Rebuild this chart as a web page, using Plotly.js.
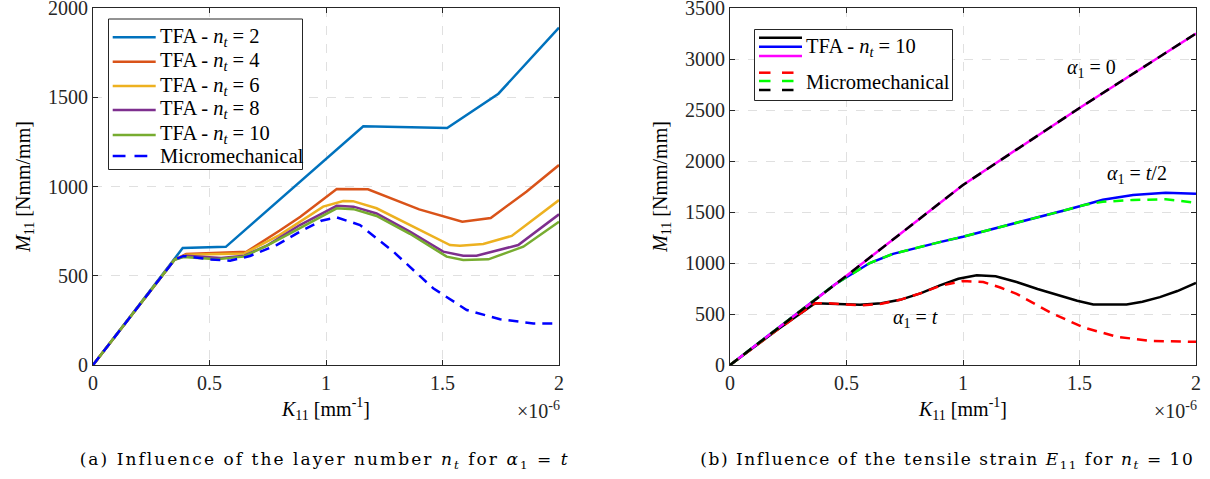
<!DOCTYPE html>
<html><head><meta charset="utf-8">
<script src="https://cdn.plot.ly/plotly-3.0.1.min.js"></script>
<style>
html,body{margin:0;padding:0;background:#fff}
.annotation[data-index="0"] text { letter-spacing: 2.05px; }
.annotation[data-index="1"] text { letter-spacing: 1.55px; }
</style>
</head><body><div id="chart" style="width:1210px;height:479px"></div>
<script>
// ---- Panel (a): curvature K11 (x 1e-6 mm^-1) vs moment M11 [Nmm/mm] ----
const a_nt2_x = [0, 0.385, 0.57, 1.16, 1.52, 1.74, 2];
const a_nt2_y = [0, 655, 662, 1337, 1328, 1520, 1890];
const a_nt4_x = [0, 0.35, 0.40, 0.66, 0.80, 0.89, 1.046, 1.18, 1.40, 1.585, 1.707, 1.86, 2];
const a_nt4_y = [0, 590, 622, 635, 752, 831, 986, 984, 872, 803, 823, 971, 1120];
const a_nt6_x = [0, 0.35, 0.40, 0.65, 0.80, 0.888, 0.988, 1.074, 1.116, 1.217, 1.532, 1.575, 1.675, 1.797, 2];
const a_nt6_y = [0, 590, 618, 625, 728, 803, 887, 919, 918, 878, 672, 668, 678, 723, 924];
const a_nt8_x = [0, 0.35, 0.40, 0.55, 0.65, 0.75, 0.888, 1.046, 1.118, 1.217, 1.36, 1.503, 1.589, 1.646, 1.825, 2];
const a_nt8_y = [0, 590, 612, 600, 612, 672, 784, 892, 887, 849, 747, 635, 612, 612, 672, 844];
const a_nt10_x = [0, 0.35, 0.388, 0.531, 0.645, 0.745, 0.86, 1.046, 1.118, 1.217, 1.36, 1.518, 1.589, 1.697, 1.847, 2];
const a_nt10_y = [0, 590, 605, 592, 607, 667, 747, 878, 873, 835, 735, 607, 588, 592, 663, 803];
const a_micro_x = [0, 0.35, 0.388, 0.5, 0.588, 0.674, 0.788, 0.888, 0.98, 1.046, 1.146, 1.289, 1.46, 1.604, 1.747, 1.89, 2];
const a_micro_y = [0, 590, 611, 592, 584, 611, 672, 747, 808, 827, 784, 635, 430, 308, 256, 233, 233];

// ---- Panel (b): n_t = 10, three alpha_1 values ----
const b_a0_x = [0, 0.5, 1, 1.5, 2];
const b_a0_tfa_y = [0, 875, 1765, 2520, 3250];
const b_a0_micro_y = [0, 875, 1765, 2520, 3250];
const b_ah_x = [0, 0.25, 0.45, 0.5, 0.6, 0.7, 0.8, 0.9, 1.0, 1.15, 1.3, 1.45, 1.52, 1.6, 1.73, 1.87, 2];
const b_ah_tfa_y = [0, 440, 790, 860, 1000, 1090, 1150, 1205, 1258, 1345, 1438, 1525, 1569, 1620, 1667, 1689, 1680];
const b_ah_micro_y = [0, 440, 790, 860, 1000, 1090, 1150, 1205, 1258, 1345, 1438, 1525, 1569, 1600, 1618, 1625, 1590];
const b_at_tfa_x = [0, 0.2, 0.365, 0.45, 0.558, 0.65, 0.73, 0.82, 0.901, 0.98, 1.059, 1.14, 1.23, 1.32, 1.416, 1.49, 1.559, 1.63, 1.702, 1.77, 1.845, 1.92, 2];
const b_at_tfa_y = [0, 340, 606, 600, 590, 605, 639, 705, 780, 845, 879, 870, 813, 745, 682, 630, 593, 590, 593, 620, 665, 725, 805];
const b_at_micro_x = [0, 0.2, 0.365, 0.415, 0.558, 0.65, 0.73, 0.82, 0.901, 1.0, 1.087, 1.16, 1.23, 1.373, 1.516, 1.66, 1.803, 1.9, 2];
const b_at_micro_y = [0, 340, 606, 606, 585, 600, 639, 705, 775, 823, 813, 760, 698, 517, 369, 277, 237, 230, 227];

const xTicks = [0, 0.5, 1, 1.5, 2];
const xTickText = ['0', '0.5', '1', '1.5', '2'];
const legendNames = ['TFA - <i>n</i><sub><i>t</i></sub> = 2', 'TFA - <i>n</i><sub><i>t</i></sub> = 4', 'TFA - <i>n</i><sub><i>t</i></sub> = 6',
  'TFA - <i>n</i><sub><i>t</i></sub> = 8', 'TFA - <i>n</i><sub><i>t</i></sub> = 10', 'Micromechanical'];
const matlabColors = ['#0072BD', '#D95319', '#EDB120', '#7E2F8E', '#77AC30'];
const microColorA = '#0000FF';

const LW = 2.5;
const DASH = '10px,7px';
function tr(x, y, name, color, dash, axis) {
  return {x: x, y: y, name: name, type: 'scatter', mode: 'lines',
    line: {color: color, width: LW, dash: dash || 'solid'},
    xaxis: axis === 2 ? 'x2' : 'x', yaxis: axis === 2 ? 'y2' : 'y',
    showlegend: false, hoverinfo: 'skip'};
}

const data = [
  tr(a_nt2_x, a_nt2_y, legendNames[0], matlabColors[0], null, 1),
  tr(a_nt4_x, a_nt4_y, legendNames[1], matlabColors[1], null, 1),
  tr(a_nt6_x, a_nt6_y, legendNames[2], matlabColors[2], null, 1),
  tr(a_nt8_x, a_nt8_y, legendNames[3], matlabColors[3], null, 1),
  tr(a_nt10_x, a_nt10_y, legendNames[4], matlabColors[4], null, 1),
  tr(a_micro_x, a_micro_y, legendNames[5], microColorA, DASH, 1),
  tr(b_at_tfa_x, b_at_tfa_y, 'TFA α1=t', '#000000', null, 2),
  tr(b_ah_x, b_ah_tfa_y, 'TFA α1=t/2', '#0000FF', null, 2),
  tr(b_a0_x, b_a0_tfa_y, 'TFA α1=0', '#FF00FF', null, 2),
  tr(b_at_micro_x, b_at_micro_y, 'Micro α1=t', '#FF0000', DASH, 2),
  tr(b_ah_x, b_ah_micro_y, 'Micro α1=t/2', '#00FF00', DASH, 2),
  tr(b_a0_x, b_a0_micro_y, 'Micro α1=0', '#000000', DASH, 2)
];

const W = 1210, H = 479;
const px = v => v / W, py = v => 1 - v / H;
const serif = 'Liberation Serif';
const axCol = '#262626';
function xax(dom, anchor) {
  return {domain: dom, anchor: anchor, range: [0, 2], tickvals: xTicks, ticktext: xTickText,
    showgrid: true, gridcolor: '#e0e0e0', griddash: 'dash', gridwidth: 1, zeroline: false,
    showline: true, linecolor: axCol, linewidth: 1, mirror: 'ticks', ticks: 'inside', ticklen: 5,
    tickcolor: axCol, tickfont: {family: serif, size: 20, color: axCol}, ticklabeloverflow: 'allow',
    title: {text: '<i>K</i><sub>11</sub> [mm<sup>-1</sup>]', standoff: 8, font: {family: serif, size: 20, color: '#000'}}};
}
function yax(dom, anchor, max) {
  return {domain: dom, anchor: anchor, range: [0, max], dtick: 500, tick0: 0,
    showgrid: true, gridcolor: '#e0e0e0', griddash: 'dash', gridwidth: 1, zeroline: false,
    showline: true, linecolor: axCol, linewidth: 1, mirror: 'ticks', ticks: 'inside', ticklen: 5,
    tickcolor: axCol, tickfont: {family: serif, size: 20, color: axCol}, ticklabeloverflow: 'allow',
    title: {text: '<i>M</i><sub>11</sub> [Nmm/mm]', standoff: 12, font: {family: serif, size: 20, color: '#000'}}};
}
const yDom = [py(365), py(8)];

const shapes = [];
function seg(x0, x1, y, color) {
  shapes.push({type: 'line', xref: 'paper', yref: 'paper', x0: px(x0), x1: px(x1), y0: py(y), y1: py(y),
    line: {color: color, width: LW}});
}
function box(x0, y0, x1, y1) {
  shapes.push({type: 'rect', xref: 'paper', yref: 'paper', x0: px(x0), x1: px(x1), y0: py(y1), y1: py(y0),
    line: {color: axCol, width: 1}, fillcolor: '#fff', layer: 'above'});
}
const legFont = {family: serif, size: 20.5, color: '#000'};
const annotations = [];

// captions (index 0,1 – letter-spaced via CSS, text is middle-anchored)
const capFont = {family: 'DejaVu Serif', size: 17, color: '#000'};
annotations.push({xref: 'paper', yref: 'paper', x: px(325), y: py(460), xanchor: 'center', yanchor: 'middle', showarrow: false,
  text: '(a) Influence of the layer number <i>n</i><sub><i>t</i></sub> for <i>α</i><sub>1</sub> = <i>t</i>', font: capFont});
annotations.push({xref: 'paper', yref: 'paper', x: px(947), y: py(460), xanchor: 'center', yanchor: 'middle', showarrow: false,
  text: '(b) Influence of the tensile strain <i>E</i><sub>11</sub> for <i>n</i><sub><i>t</i></sub> = 10', font: capFont});

// left legend
box(108.5, 19, 302.5, 169.5);
const legRowsY = [37.3, 61.7, 86, 110, 135, 156];
for (let i = 0; i < 5; i++) {
  seg(112.7, 155.7, legRowsY[i], matlabColors[i]);
  annotations.push({xref: 'paper', yref: 'paper', x: px(158), y: py(legRowsY[i]), xanchor: 'left', yanchor: 'middle',
    showarrow: false, text: legendNames[i], font: legFont});
}
seg(112.7, 125.5, legRowsY[5], microColorA);
seg(134.5, 147.3, legRowsY[5], microColorA);
annotations.push({xref: 'paper', yref: 'paper', x: px(158), y: py(legRowsY[5] - 0.5), xanchor: 'left', yanchor: 'middle',
  showarrow: false, text: legendNames[5], font: legFont});

// right legend (stacked line samples)
box(754.5, 29.5, 952.5, 100.5);
[['#000000', 37.7], ['#0000FF', 46.7], ['#FF00FF', 56]].forEach(s => seg(759, 802, s[1], s[0]));
[['#FF0000', 72.7], ['#00FF00', 81], ['#000000', 90]].forEach(s => { seg(759, 770.5, s[1], s[0]); seg(782, 793.5, s[1], s[0]); });
annotations.push({xref: 'paper', yref: 'paper', x: px(804), y: py(47), xanchor: 'left', yanchor: 'middle', showarrow: false,
  text: 'TFA - <i>n</i><sub><i>t</i></sub> = 10', font: legFont});
annotations.push({xref: 'paper', yref: 'paper', x: px(804), y: py(82), xanchor: 'left', yanchor: 'middle', showarrow: false,
  text: 'Micromechanical', font: legFont});

// exponent labels and curve labels
const annFont = {family: serif, size: 20, color: '#000'};
annotations.push({xref: 'paper', yref: 'paper', x: px(562), y: py(410), xanchor: 'right', yanchor: 'middle', showarrow: false,
  text: '×10<sup>-6</sup>', font: {family: serif, size: 20, color: axCol}});
annotations.push({xref: 'paper', yref: 'paper', x: px(1199), y: py(410), xanchor: 'right', yanchor: 'middle', showarrow: false,
  text: '×10<sup>-6</sup>', font: {family: serif, size: 20, color: axCol}});
annotations.push({xref: 'x2', yref: 'y2', x: 1.55, y: 2905, showarrow: false, text: '<i>α</i><sub>1</sub> = 0', font: annFont});
annotations.push({xref: 'x2', yref: 'y2', x: 1.745, y: 1868, showarrow: false, text: '<i>α</i><sub>1</sub> = <i>t</i>/2', font: annFont});
annotations.push({xref: 'x2', yref: 'y2', x: 0.795, y: 455, showarrow: false, text: '<i>α</i><sub>1</sub> = <i>t</i>', font: annFont});

const layout = {
  width: W, height: H, margin: {l: 0, r: 0, t: 0, b: 0}, paper_bgcolor: '#fff', plot_bgcolor: '#fff',
  font: {family: serif, size: 20, color: '#000'},
  xaxis: xax([px(93), px(559)], 'y'),
  yaxis: yax(yDom, 'x', 2000),
  xaxis2: xax([px(730), px(1196)], 'y2'),
  yaxis2: yax(yDom, 'x2', 3500),
  showlegend: false,
  shapes: shapes,
  annotations: annotations
};

Plotly.newPlot('chart', data, layout, {displayModeBar: false, staticPlot: true});
</script></body></html>
